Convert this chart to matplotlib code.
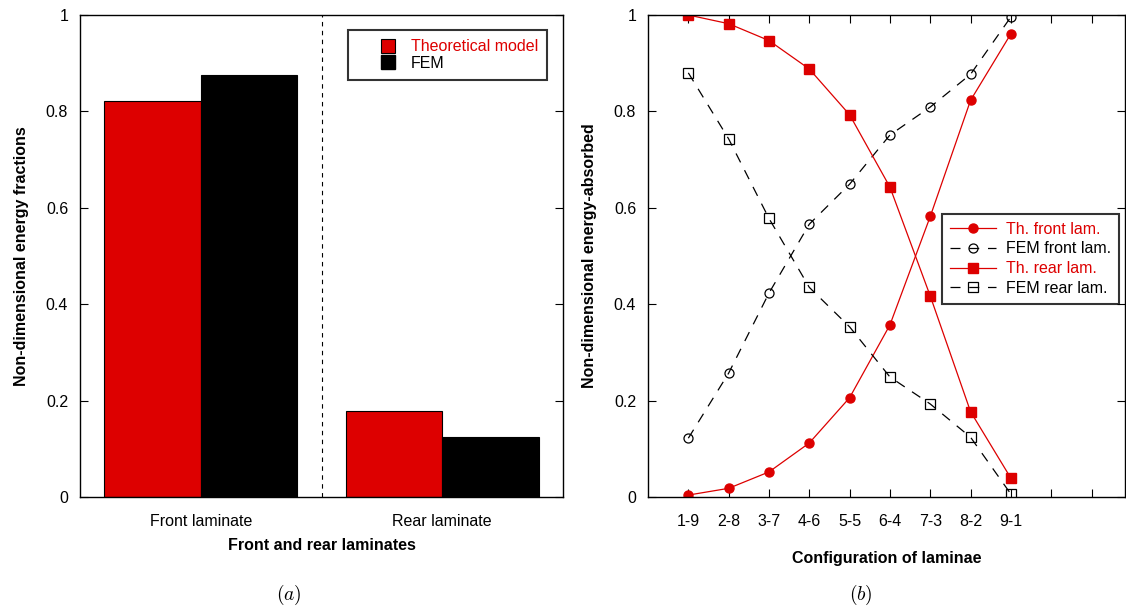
import matplotlib
matplotlib.use("Agg")
import matplotlib.pyplot as plt
from matplotlib.patches import Patch, Rectangle
from matplotlib.legend_handler import HandlerPatch

plt.rcParams['font.family'] = ['Liberation Sans', 'DejaVu Sans']
plt.rcParams['mathtext.fontset'] = 'cm'

# ---- data: panel (a)
groups = ["Front laminate", "Rear laminate"]
theoretical = [0.822, 0.178]
fem = [0.876, 0.124]

# ---- data: panel (b)
configs = ["1-9", "2-8", "3-7", "4-6", "5-5", "6-4", "7-3", "8-2", "9-1"]
th_front = [0.004, 0.018, 0.052, 0.112, 0.206, 0.357, 0.582, 0.823, 0.961]
fem_front = [0.122, 0.257, 0.423, 0.566, 0.649, 0.751, 0.809, 0.877, 0.996]
th_rear = [1.000, 0.982, 0.947, 0.888, 0.793, 0.643, 0.417, 0.177, 0.039]
fem_rear = [0.880, 0.743, 0.578, 0.435, 0.353, 0.249, 0.193, 0.124, 0.006]

RED = '#dd0000'
FS = 11.5
W, H = 1126, 607
fig = plt.figure(figsize=(W / 100, H / 100), dpi=100)

def ax_rect(x0, x1, y0, y1):
    return [x0 / W, 1 - y1 / H, (x1 - x0) / W, (y1 - y0) / H]

def right_square(legend, orig_handle, xdescent, ydescent, width, height, fontsize):
    side = height * 1.0
    return Rectangle((-xdescent + width - side, -ydescent + (height - side) / 2),
                     side, side)

# ---------------- panel (a)
ax1 = fig.add_axes(ax_rect(80, 563, 15, 497))
xs = [1, 2]
bw = 0.4
ax1.bar([x - bw / 2 for x in xs], theoretical, width=bw, color=RED,
        edgecolor='black', linewidth=0.8, label='Theoretical model')
ax1.bar([x + bw / 2 for x in xs], fem, width=bw, color='black',
        edgecolor='black', linewidth=0.8, label='FEM')
ax1.axvline(1.5, color='black', linestyle=(0, (4, 4)), linewidth=0.8)
ax1.set_xlim(0.5, 2.5)
ax1.set_ylim(0, 1)
ax1.set_xticks(xs)
ax1.set_xticklabels(groups)
ax1.tick_params(axis='x', length=0, labelsize=FS, pad=12)
ax1.set_yticks([0, 0.2, 0.4, 0.6, 0.8, 1])
ax1.set_yticklabels(['0', '0.2', '0.4', '0.6', '0.8', '1'])
ax1.tick_params(axis='y', direction='in', length=6, right=True, labelsize=FS, pad=8.5)
ax1.set_xlabel('Front and rear laminates', fontweight='bold', fontsize=FS, labelpad=7)
ax1.set_ylabel('Non-dimensional energy fractions', fontweight='bold', fontsize=FS, labelpad=12)
handles = [Patch(facecolor=RED, edgecolor='black', linewidth=0.8),
           Patch(facecolor='black', edgecolor='black')]
leg1 = ax1.legend(handles, ['Theoretical model', 'FEM'], loc='upper right',
                  bbox_to_anchor=(0.967, 0.969), fontsize=FS, frameon=True,
                  fancybox=False, edgecolor='black', handlelength=2.4,
                  handleheight=0.95, handletextpad=1.0, borderpad=0.55,
                  labelspacing=0.08, borderaxespad=0,
                  handler_map={Patch: HandlerPatch(patch_func=right_square)})
leg1.get_frame().set_linewidth(1.5)
leg1.get_texts()[0].set_color(RED)
for s in ax1.spines.values():
    s.set_linewidth(1.0)

# ---------------- panel (b)
ax2 = fig.add_axes(ax_rect(648, 1125, 15, 497))
xpos = list(range(1, len(configs) + 1))
ax2.plot(xpos, th_front, color=RED, marker='o', markersize=6.5, linewidth=0.9,
         label='Th. front lam.')
ax2.plot(xpos, fem_front, color='black', marker='o', markersize=6.5,
         markerfacecolor='none', markeredgewidth=0.9, linewidth=0.9,
         dashes=(8, 7), label='FEM front lam.')
ax2.plot(xpos, th_rear, color=RED, marker='s', markersize=7, linewidth=0.9,
         label='Th. rear lam.')
ax2.plot(xpos, fem_rear, color='black', marker='s', markersize=7,
         markerfacecolor='none', markeredgewidth=0.9, linewidth=0.9,
         dashes=(8, 7), label='FEM rear lam.')
ax2.set_xlim(0, 11.83)
ax2.set_ylim(0, 1)
ax2.set_xticks(list(range(1, 12)))
ax2.set_xticklabels(configs + ['', ''])
ax2.tick_params(axis='x', direction='in', length=6, top=True, labelsize=FS, pad=12)
ax2.set_yticks([0, 0.2, 0.4, 0.6, 0.8, 1])
ax2.set_yticklabels(['0', '0.2', '0.4', '0.6', '0.8', '1'])
ax2.tick_params(axis='y', direction='in', length=6, right=True, labelsize=FS, pad=8.5)
ax2.set_xlabel('Configuration of laminae', fontweight='bold', fontsize=FS, labelpad=16)
ax2.set_ylabel('Non-dimensional energy-absorbed', fontweight='bold', fontsize=FS, labelpad=12)
leg2 = ax2.legend(loc='upper right', bbox_to_anchor=(0.987, 0.588), fontsize=FS,
                  frameon=True, fancybox=False, edgecolor='black',
                  handlelength=2.9, handletextpad=0.6, borderpad=0.5,
                  labelspacing=0.3, borderaxespad=0)
leg2.get_frame().set_linewidth(1.5)
for t, c in zip(leg2.get_texts(), [RED, 'black', RED, 'black']):
    t.set_color(c)
for s in ax2.spines.values():
    s.set_linewidth(1.0)

# captions
fig.text(289 / W, 1 - 595 / H, r'$(a)$', ha='center', va='center', fontsize=14)
fig.text(861 / W, 1 - 595 / H, r'$(b)$', ha='center', va='center', fontsize=14)

fig.savefig('out.png', dpi=100)
